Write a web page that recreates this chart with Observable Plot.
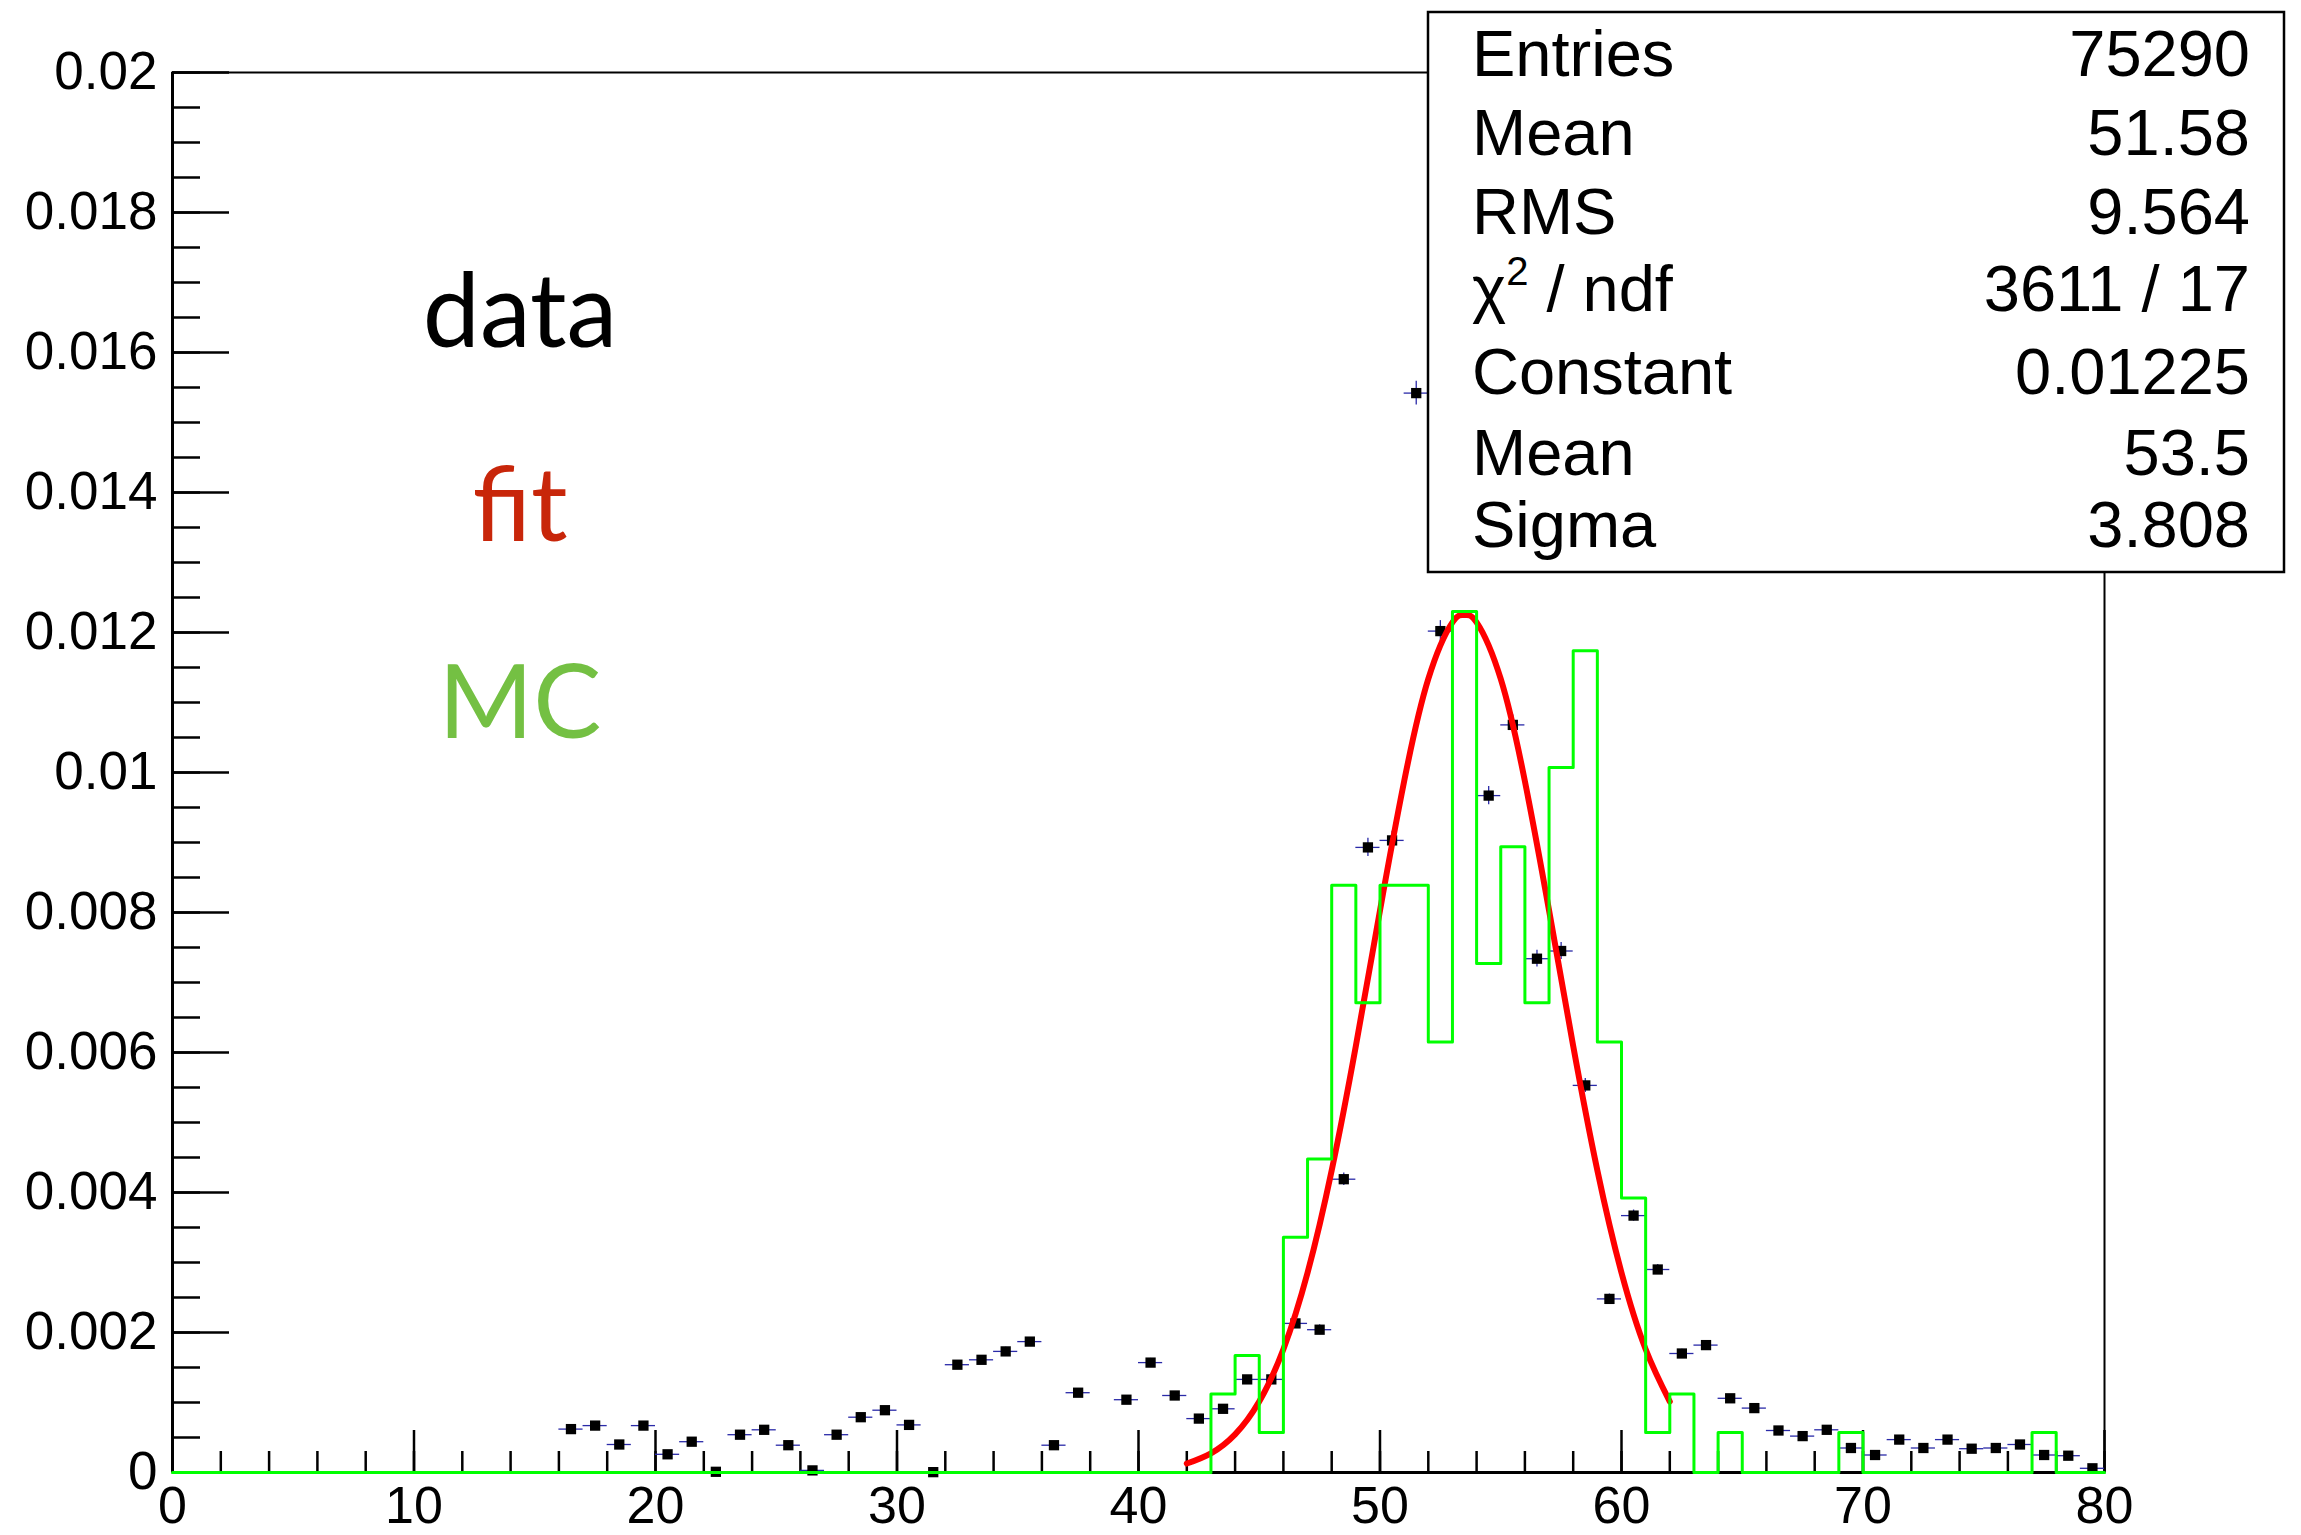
<!DOCTYPE html>
<html><head><meta charset="utf-8">
<script src="https://cdn.jsdelivr.net/npm/d3@7"></script>
<script src="https://cdn.jsdelivr.net/npm/@observablehq/plot@0.6"></script>
<style>html,body{margin:0;padding:0;background:#fff;} #chart svg{display:block}</style>
</head><body><div id="chart"></div>
<script>
// ---- data ----
const dataX = [16.5,17.5,18.5,19.5,20.5,21.5,22.5,23.5,24.5,25.5,26.5,27.5,28.5,29.5,30.5,31.5,32.5,33.5,34.5,35.5,36.5,37.5,
  39.5,40.5,41.5,42.5,43.5,44.5,45.5,46.5,47.5,48.5,49.5,50.5,51.5,52.5,
  54.5,55.5,56.5,57.5,58.5,59.5,60.5,61.5,62.5,63.5,64.5,65.5,66.5,67.5,68.5,69.5,70.5,71.5,72.5,73.5,74.5,75.5,76.5,77.5,78.5,79.5];
const dataY = [0.00062,0.00067,0.00040,0.00067,0.00026,0.00044,0.00001,0.00054,0.00061,0.00039,0.00003,0.00054,0.00079,0.00089,0.00068,0.000005,0.00154,0.00161,0.00173,0.00187,0.00039,0.00114,
  0.00104,0.00157,0.00110,0.00077,0.00091,0.00133,0.00133,0.00213,0.00204,0.00419,0.00893,0.00903,0.01542,0.01202,
  0.00967,0.01068,0.00734,0.00745,0.00553,0.00248,0.00367,0.00290,0.00170,0.00182,0.00106,0.00092,0.00060,0.00052,0.00061,0.00035,0.00025,0.00047,0.00035,0.00047,0.00034,0.00035,0.00040,0.00025,0.00024,0.00006];
const dataErr = [0.00004,0.00004,0.00003,0.00004,0.00003,0.00003,0.00001,0.00004,0.00004,0.00003,0.00001,0.00004,0.00004,0.00005,0.00004,0.00001,0.00006,0.00006,0.00006,0.00006,0.00003,0.00005,
  0.00005,0.00006,0.00005,0.00004,0.00005,0.00005,0.00005,0.00007,0.00007,0.00009,0.00013,0.00013,0.00017,0.00015,
  0.00013,0.00014,0.00012,0.00012,0.00010,0.00007,0.00008,0.00007,0.00006,0.00006,0.00005,0.00005,0.00004,0.00004,0.00004,0.00003,0.00003,0.00004,0.00003,0.00004,0.00003,0.00003,0.00003,0.00003,0.00002,0.00001];

// MC histogram, one value per unit bin [i, i+1), i = 0..79
const mcValues = [0,0,0,0,0,0,0,0,0,0, 0,0,0,0,0,0,0,0,0,0,
  0,0,0,0,0,0,0,0,0,0, 0,0,0,0,0,0,0,0,0,0,
  0,0,0,0.00112,0.00167,0.00057,0.00336,0.00448,0.00839,0.00671,
  0.00839,0.00839,0.00615,0.01230,0.00727,0.00894,0.00671,0.01007,0.01174,0.00615,
  0.00392,0.00057,0.00112,0,0.00057,0,0,0,0,0.00057,
  0,0,0,0,0,0,0,0.00057,0,0];

// Gaussian fit curve (Constant 0.01225, Mean 53.5, Sigma 3.808), sampled values
const fitX = [42,43,44,45,46,47,48,49,50,51,52,53,53.5,54,55,56,57,58,59,60,61,62];
const fitY = [0.000128,0.000274,0.000545,0.001014,0.001761,0.002854,0.004317,0.006094,0.008030,0.009875,0.011336,0.012145,0.012250,0.012145,0.011336,0.009875,0.008030,0.006094,0.004317,0.002854,0.001761,0.001014];

// axes
const xTicks = [0,10,20,30,40,50,60,70,80];
const xTickLabels = ["0","10","20","30","40","50","60","70","80"];
const xMinorTicks = [0,2,4,6,8,10,12,14,16,18,20,22,24,26,28,30,32,34,36,38,40,42,44,46,48,50,52,54,56,58,60,62,64,66,68,70,72,74,76,78,80];
const yTicks = [0,0.002,0.004,0.006,0.008,0.01,0.012,0.014,0.016,0.018,0.02];
const yTickLabels = ["0","0.002","0.004","0.006","0.008","0.01","0.012","0.014","0.016","0.018","0.02"];
const yMinorTicks = d3.range(0, 41).map(i => i * 0.0005);

// stats box
const statsLabels = ["Entries","Mean","RMS","χ2 / ndf","Constant","Mean","Sigma"];
const statsValues = ["75290","51.58","9.564","3611 / 17","0.01225","53.5","3.808"];

// legend
const legendLabels = ["data","fit","MC"];
const legendColors = ["#000000","#c8260a","#74c043"];

// ---- tables ----
const dataTable = dataX.map((x, i) => ({x, y: dataY[i], e: dataErr[i]}));
const mcTable = mcValues.map((v, i) => ({x: i, y: v})).concat([{x: 80, y: mcValues[79]}]);
const fitTable = fitX.map((x, i) => ({x, y: fitY[i]}));

const W = 2301, H = 1535;
const font = "'Liberation Sans', Arial, Helvetica, sans-serif";

const chart = Plot.plot({
  width: W, height: H,
  marginLeft: 172, marginRight: 197, marginTop: 72, marginBottom: 63,
  x: {domain: [0, 80]},
  y: {domain: [0, 0.02]},
  style: {fontFamily: font, fontSize: "53px", color: "black", background: "white"},
  marks: [
    Plot.frame({stroke: "black", strokeWidth: 2}),
    Plot.axisX({ticks: xMinorTicks, tickSize: -21, strokeWidth: 2.5, tickFormat: () => "", label: null}),
    Plot.axisX({ticks: xTicks, tickSize: -42, strokeWidth: 2.5, tickFormat: () => "", label: null}),
    Plot.axisX({ticks: xTicks, tickSize: 0, tickPadding: 14, tickFormat: d => xTickLabels[xTicks.indexOf(d)], label: null, fontSize: 52}),
    Plot.axisY({ticks: yMinorTicks, tickSize: -28, strokeWidth: 2.5, tickFormat: () => "", label: null}),
    Plot.axisY({ticks: yTicks, tickSize: -57, strokeWidth: 2.5, tickFormat: () => "", label: null}),
    Plot.axisY({ticks: yTicks, tickSize: 0, tickPadding: 15, tickFormat: d => yTickLabels[yTicks.indexOf(d)], label: null, fontSize: 53}),
    Plot.ruleX([0], {stroke: "black", strokeWidth: 3}),
    Plot.ruleY([0], {stroke: "black", strokeWidth: 3}),
    Plot.ruleY(dataTable, {x1: d => d.x - 0.5, x2: d => d.x + 0.5, y: "y", stroke: "#2a2aa8", strokeWidth: 1.3}),
    Plot.ruleX(dataTable, {x: "x", y1: d => d.y - d.e, y2: d => d.y + d.e, stroke: "#2a2aa8", strokeWidth: 1.3}),
    Plot.dot(dataTable, {x: "x", y: "y", symbol: "square", r: 5.8, fill: "black", stroke: null}),
    Plot.line(fitTable, {x: "x", y: "y", stroke: "#ff0000", strokeWidth: 6, curve: "natural"}),
    Plot.line(mcTable, {x: "x", y: "y", stroke: "#00ff00", strokeWidth: 3, curve: "step-after"})
  ]
});
document.getElementById("chart").appendChild(chart);

const svg = d3.select(chart);

// stats box
const box = svg.append("g");
box.append("rect").attr("x", 1428).attr("y", 12).attr("width", 856).attr("height", 560)
  .attr("fill", "white").attr("stroke", "black").attr("stroke-width", 2.5);
const rowBase = [76, 155, 234, 311, 394, 475, 547];
statsLabels.forEach((lab, i) => {
  const t = box.append("text").attr("x", 1472).attr("y", rowBase[i]).attr("text-anchor", "start")
    .attr("font-family", font).attr("font-size", 65).attr("fill", "black");
  if (lab.startsWith("χ2")) {
    t.append("tspan").text("χ");
    t.append("tspan").attr("dy", -26).attr("font-size", 40).text("2");
    t.append("tspan").attr("dy", 26).text(" / ndf");
  } else {
    t.text(lab);
  }
  box.append("text").attr("x", 2250).attr("y", rowBase[i]).attr("text-anchor", "end")
    .attr("font-family", font).attr("font-size", 65).attr("fill", "black").text(statsValues[i]);
});

// legend texts
const legBase = [347, 541, 738];
legendLabels.forEach((lab, i) => {
  svg.append("text").attr("x", 520).attr("y", legBase[i]).attr("text-anchor", "middle")
    .attr("font-family", "Lato, 'Open Sans', sans-serif").attr("font-size", 102)
    .attr("fill", legendColors[i]).text(lab);
});
</script>
</body></html>
